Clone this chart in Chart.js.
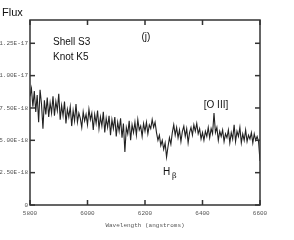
<!DOCTYPE html>
<html>
<head>
<meta charset="utf-8">
<script src="https://cdn.jsdelivr.net/npm/chart.js@4.4.1/dist/chart.umd.min.js"></script>
<style>
  html, body { margin: 0; padding: 0; background: #fff; }
  #wrap { width: 294px; height: 240px; position: relative; }
</style>
</head>
<body>
<div id="wrap"><canvas id="spec"></canvas></div>
<script>
// ---- data (flux in units of 1e-18, 5 A sampling from 5800 A) ----
const waveStart = 5800;
const waveStep = 5;
const flux = [
  8.4, 9.0, 7.6, 8.8, 7.2, 8.5, 6.4, 8.9, 7.8, 5.9,
  8.1, 7.0, 8.3, 6.8, 7.9, 7.1, 8.4, 6.9, 8.0, 7.3,
  8.6, 6.6, 7.7, 6.9, 8.0, 6.3, 7.4, 6.8, 7.6, 6.1,
  7.3, 6.5, 7.8, 6.4, 7.1, 6.7, 6.0, 7.2, 6.5, 7.0,
  6.2, 7.4, 6.6, 7.1, 5.8, 7.0, 6.3, 7.3, 5.9, 6.8,
  6.1, 7.2, 5.6, 6.7, 6.0, 6.9, 5.4, 6.6, 5.9, 6.8,
  5.3, 6.4, 5.7, 6.7, 5.2, 6.3, 4.1, 6.0, 5.5, 6.5,
  5.0, 6.2, 5.6, 6.4, 5.4, 6.6, 5.8, 6.1, 5.3, 6.3,
  5.7, 6.4, 5.5, 6.2, 5.9, 6.6, 6.0, 6.4, 5.6, 5.0,
  5.4, 4.6, 5.0, 4.3, 4.8, 3.7, 4.5, 5.2, 4.7, 5.6,
  6.2, 5.4, 6.0, 5.2, 5.8, 4.9, 5.7, 6.1, 5.3, 5.9,
  4.8, 5.6, 6.0, 5.4, 6.2, 5.7, 6.3, 5.5, 5.9, 5.1,
  5.6, 5.0, 5.7, 5.3, 6.0, 5.2, 5.9, 5.5, 7.1, 5.6,
  6.0, 5.0, 5.7, 5.3, 5.8, 4.9, 5.5, 5.2, 5.8, 4.8,
  5.6, 5.1, 6.2, 4.9, 5.7, 5.3, 6.0, 4.8, 5.5, 5.0,
  5.8, 4.9, 5.4, 5.1, 5.6, 4.8, 5.5, 5.0, 5.3, 4.9,
  3.4
];

const xTicks = [5800, 6000, 6200, 6400, 6600];
const yTicks = [0, 2.5, 5, 7.5, 10, 12.5];
const yTickLabels = ['0', '2.50E-18', '5.00E-18', '7.50E-18', '1.00E-17', '1.25E-17'];

// text notes placed in data coordinates
const notes = [
  { text: 'Shell S3', x: 5880, y: 12.6, align: 'left' },
  { text: 'Knot K5', x: 5880, y: 11.4, align: 'left' },
  { text: '(j)', x: 6203, y: 13.0, align: 'center' },
  { text: '[O III]', x: 6447, y: 7.7, align: 'center' }
];

const sansFont = '10px "Liberation Sans", Arial, sans-serif';
const monoFont = { family: '"Liberation Mono", "DejaVu Sans Mono", monospace', size: 6 };
const axisColor = '#333';

// inward tick marks, frame box, and the text notes
const framePlugin = {
  id: 'frame',
  afterDraw(chart) {
    const ctx = chart.ctx;
    const a = chart.chartArea;
    const xs = chart.scales.x;
    const ys = chart.scales.y;
    ctx.save();
    ctx.strokeStyle = axisColor;
    ctx.lineWidth = 1.5;
    ctx.strokeRect(a.left, a.top, a.right - a.left, a.bottom - a.top);

    // tick marks pointing into the plot
    ctx.fillStyle = axisColor;
    const len = 5;
    xTicks.forEach(v => {
      const px = xs.getPixelForValue(v);
      ctx.fillRect(px - 0.75, a.bottom - len, 1.5, len);
      ctx.fillRect(px - 0.75, a.top, 1.5, len);
    });
    yTicks.forEach(v => {
      const py = ys.getPixelForValue(v);
      ctx.fillRect(a.left, py - 0.75, len, 1.5);
      ctx.fillRect(a.right - len, py - 0.75, len, 1.5);
    });

    // Flux label
    ctx.fillStyle = '#111';
    ctx.font = '11px "Liberation Sans", Arial, sans-serif';
    ctx.textAlign = 'left';
    ctx.textBaseline = 'middle';
    ctx.fillText('Flux', 2, 13);

    ctx.font = sansFont;
    notes.forEach(n => {
      ctx.textAlign = n.align;
      ctx.fillText(n.text, xs.getPixelForValue(n.x), ys.getPixelForValue(n.y));
    });

    // H beta
    const hx = xs.getPixelForValue(6263);
    const hy = ys.getPixelForValue(2.55);
    ctx.textAlign = 'left';
    ctx.fillText('H', hx, hy);
    ctx.font = '8px "DejaVu Serif", serif';
    ctx.fillText('\u03b2', hx + 9, hy + 4);
    ctx.restore();
  }
};

const points = flux.map((v, i) => ({ x: waveStart + waveStep * i, y: v }));

new Chart(document.getElementById('spec'), {
  type: 'line',
  data: {
    datasets: [{
      data: points,
      borderColor: '#222',
      borderWidth: 1.1,
      pointRadius: 0,
      tension: 0
    }]
  },
  options: {
    responsive: true,
    maintainAspectRatio: false,
    animation: false,
    layout: { padding: { top: 20, right: 34, left: 0, bottom: 0 } },
    plugins: { legend: { display: false }, tooltip: { enabled: false } },
    scales: {
      x: {
        type: 'linear',
        min: 5800,
        max: 6600,
        afterFit: s => { s.height = 35; },
        afterBuildTicks: s => { s.ticks = xTicks.map(v => ({ value: v })); },
        grid: { display: false, drawTicks: false },
        border: { display: false },
        ticks: { color: '#555', font: monoFont, padding: 5, maxRotation: 0, callback: v => String(v) },
        title: { display: true, text: 'Wavelength (angstroms)', color: '#555', font: monoFont, padding: { top: 3, bottom: 11 } }
      },
      y: {
        min: 0,
        max: 14.3,
        afterFit: s => { s.width = 30; },
        afterBuildTicks: s => { s.ticks = yTicks.map(v => ({ value: v })); },
        grid: { display: false, drawTicks: false },
        border: { display: false },
        ticks: {
          color: '#555', font: monoFont, padding: 2,
          callback: v => yTickLabels[yTicks.indexOf(v)]
        }
      }
    }
  },
  plugins: [framePlugin]
});
</script>
</body>
</html>
